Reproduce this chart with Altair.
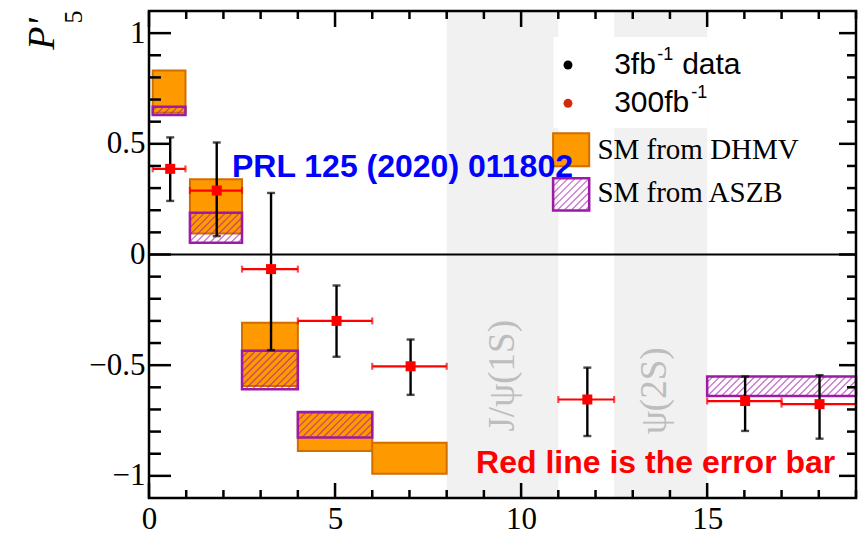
import math
import altair as alt
import pandas as pd

# ---------------- data ----------------
bin_lo = [0.1, 1.1, 2.5, 4.0, 6.0, 11.0, 15.0, 17.0]
bin_hi = [0.98, 2.5, 4.0, 6.0, 8.0, 12.5, 17.0, 19.0]
x_center = [0.57, 1.82, 3.28, 5.04, 7.03, 11.78, 16.02, 18.02]
p5_value = [0.387, 0.289, -0.066, -0.300, -0.505, -0.655, -0.662, -0.676]
err_top = [0.529, 0.506, 0.278, -0.140, -0.384, -0.511, -0.551, -0.545]
err_bot = [0.242, 0.083, -0.432, -0.462, -0.634, -0.820, -0.797, -0.832]

dhmv_x0 = [0.1, 1.1, 2.5, 4.0, 6.0]
dhmv_x1 = [0.98, 2.5, 4.0, 6.0, 8.0]
dhmv_top = [0.831, 0.340, -0.308, -0.715, -0.850]
dhmv_bot = [0.640, 0.095, -0.594, -0.888, -0.991]

aszb_x0 = [0.1, 1.1, 2.5, 4.0, 15.0]
aszb_x1 = [0.98, 2.5, 4.0, 6.0, 19.0]
aszb_top = [0.667, 0.189, -0.435, -0.711, -0.551]
aszb_bot = [0.630, 0.053, -0.609, -0.827, -0.639]

band_x0 = [8.0, 12.5]
band_x1 = [11.0, 15.0]
band_text = ["J/ψ(1S)", "ψ(2S)"]
band_text_x = [9.5, 13.6]
band_text_y = [-0.548, -0.616]

x_ticks = list(range(0, 20))
y_ticks = [round(-1.0 + 0.1 * i, 1) for i in range(21)]
x_labels = [0, 5, 10, 15]
y_labels = [-1, -0.5, 0, 0.5, 1]

# legend pieces (data coordinates)
leg_cover = dict(x0=[10.87], x1=[15.0], y0=[0.571], y1=[0.983])
leg_dot_x = [11.26, 11.26]
leg_dot_y = [0.856, 0.683]
leg_dot_color = ["#000000", "#d42a0c"]
leg_text_x = 12.5
leg_main_text = ["3fb", "300fb"]
leg_swatch = dict(x0=[10.86, 10.86], x1=[11.83, 11.83], y0=[0.399, 0.199], y1=[0.548, 0.344])
leg_sm_text = ["SM from DHMV", "SM from ASZB"]
leg_sm_y = [0.471, 0.276]
leg_sm_x = 12.05

W, H = 707, 487
XMIN, XMAX, YMIN, YMAX = 0.0, 19.0, -1.1, 1.1
SX = W / (XMAX - XMIN)
SY = H / (YMAX - YMIN)

xs = alt.Scale(domain=[XMIN, XMAX], nice=False, zero=False)
ys = alt.Scale(domain=[YMIN, YMAX], nice=False, zero=False)
label_font = "Liberation Serif"
xaxis = alt.Axis(values=x_labels, title=None, ticks=False, domain=False, grid=False,
                 labelFont=label_font, labelFontSize=31, labelColor="black",
                 labelPadding=6, labelFlush=False, labelOverlap=False, format="~g")
yaxis = alt.Axis(values=y_labels, title=None, ticks=False, domain=False, grid=False,
                 labelFont=label_font, labelFontSize=31, labelColor="black",
                 labelPadding=4, labelFlush=False, labelOverlap=False, format="~g")


def X(f):
    return alt.X(f, type="quantitative", scale=xs, axis=xaxis)


def Y(f):
    return alt.Y(f, type="quantitative", scale=ys, axis=yaxis)


def hatch(x0s, x1s, y0s, y1s, step=7.0):
    rows = []
    for x0, x1, yb, yt in zip(x0s, x1s, y0s, y1s):
        u0, u1 = x0 * SX, x1 * SX
        v0, v1 = yb * SY, yt * SY
        k = math.ceil((v0 - u1) / step)
        while k * step < v1 - u0:
            c = k * step
            ua = max(u0, v0 - c)
            ub = min(u1, v1 - c)
            if ub > ua:
                rows.append(dict(x=ua / SX, y=(ua + c) / SY, x2=ub / SX, y2=(ub + c) / SY))
            k += 1
    return pd.DataFrame(rows)


pts = pd.DataFrame(dict(lo=bin_lo, hi=bin_hi, xc=x_center, v=p5_value, et=err_top, eb=err_bot))
dhmv = pd.DataFrame(dict(x0=dhmv_x0, x1=dhmv_x1, y0=dhmv_bot, y1=dhmv_top))
aszb = pd.DataFrame(dict(x0=aszb_x0, x1=aszb_x1, y0=aszb_bot, y1=aszb_top))
bands = pd.DataFrame(dict(x0=band_x0, x1=band_x1, y0=[YMIN, YMIN], y1=[YMAX, YMAX]))
band_lbl = pd.DataFrame(dict(x=band_text_x, y=band_text_y, t=band_text))
cover = pd.DataFrame(leg_cover)
swatch = pd.DataFrame(leg_swatch)
xt = pd.DataFrame(dict(v=x_ticks, major=[v % 5 == 0 for v in x_ticks]))
yt = pd.DataFrame(dict(v=y_ticks, major=[abs(v * 2 - round(v * 2)) < 1e-9 for v in y_ticks]))

ORANGE = "#ff9900"
ORANGE_EDGE = "#d06e00"
PURPLE = "#9c1aa6"
RED = "#ff0000"

layers = []
# grey resonance bands
layers.append(alt.Chart(bands).mark_rect(color="#f1f1f1").encode(
    x=X("x0"), x2="x1", y=Y("y0"), y2="y1"))
# white legend background patch
layers.append(alt.Chart(cover).mark_rect(color="white").encode(
    x=X("x0"), x2="x1", y=Y("y0"), y2="y1"))
# zero line
layers.append(alt.Chart(pd.DataFrame(dict(v=[0.0]))).mark_rule(color="black", strokeWidth=2).encode(
    y=Y("v")))
# DHMV boxes
layers.append(alt.Chart(dhmv).mark_rect(fill=ORANGE, stroke=ORANGE_EDGE, strokeWidth=2).encode(
    x=X("x0"), x2="x1", y=Y("y0"), y2="y1"))
# ASZB hatch + boxes
hat = hatch(aszb_x0, aszb_x1, aszb_bot, aszb_top)
layers.append(alt.Chart(hat).mark_rule(color=PURPLE, strokeWidth=1.3, opacity=0.6).encode(
    x=X("x"), y=Y("y"), x2="x2", y2="y2"))
layers.append(alt.Chart(aszb).mark_rect(fill=None, fillOpacity=0, stroke=PURPLE, strokeWidth=2.5).encode(
    x=X("x0"), x2="x1", y=Y("y0"), y2="y1"))
# black (3 fb-1) error bars
layers.append(alt.Chart(pts).mark_rule(color="black", strokeWidth=2.4).encode(
    x=X("xc"), y=Y("eb"), y2="et"))
layers.append(alt.Chart(pts).mark_tick(color="black", orient="horizontal", size=8, thickness=2.4).encode(
    x=X("xc"), y=Y("et")))
layers.append(alt.Chart(pts).mark_tick(color="black", orient="horizontal", size=8, thickness=2.4).encode(
    x=X("xc"), y=Y("eb")))
# red (300 fb-1) horizontal bars
layers.append(alt.Chart(pts).mark_rule(color=RED, strokeWidth=2.2).encode(
    x=X("lo"), x2="hi", y=Y("v")))
layers.append(alt.Chart(pts).mark_tick(color=RED, orient="vertical", size=7, thickness=2.2).encode(
    x=X("lo"), y=Y("v")))
layers.append(alt.Chart(pts).mark_tick(color=RED, orient="vertical", size=7, thickness=2.2).encode(
    x=X("hi"), y=Y("v")))
layers.append(alt.Chart(pts).mark_square(color=RED, size=100, opacity=1).encode(
    x=X("xc"), y=Y("v")))

# band labels
layers.append(alt.Chart(band_lbl).mark_text(font=label_font, fontSize=37, color="#bdbdbd", angle=270,
                                            align="center", baseline="middle").encode(
    x=X("x"), y=Y("y"), text="t:N"))

# legend
leg_dots = pd.DataFrame(dict(x=leg_dot_x, y=leg_dot_y, c=leg_dot_color))
layers.append(alt.Chart(leg_dots).mark_circle(size=80, opacity=1).encode(
    x=X("x"), y=Y("y"), color=alt.Color("c:N", scale=None)))
leg_txt = pd.DataFrame(dict(x=[leg_text_x] * 2, y=leg_dot_y, t=leg_main_text))
layers.append(alt.Chart(leg_txt).mark_text(font="Liberation Sans", fontSize=30, color="black",
                                           align="left", baseline="middle").encode(
    x=X("x"), y=Y("y"), text="t:N"))
layers.append(alt.Chart(leg_txt.iloc[[0]]).mark_text(font="Liberation Sans", fontSize=18, color="black",
                                                     align="left", baseline="middle", dx=43, dy=-10).encode(
    x=X("x"), y=Y("y"), text=alt.value("-1")))
layers.append(alt.Chart(leg_txt.iloc[[1]]).mark_text(font="Liberation Sans", fontSize=18, color="black",
                                                     align="left", baseline="middle", dx=77, dy=-10).encode(
    x=X("x"), y=Y("y"), text=alt.value("-1")))
layers.append(alt.Chart(leg_txt.iloc[[0]]).mark_text(font="Liberation Sans", fontSize=30, color="black",
                                                     align="left", baseline="middle", dx=68).encode(
    x=X("x"), y=Y("y"), text=alt.value("data")))
sw_or = swatch.iloc[[0]]
sw_ha = swatch.iloc[[1]]
layers.append(alt.Chart(sw_or).mark_rect(fill=ORANGE, stroke=ORANGE_EDGE, strokeWidth=2).encode(
    x=X("x0"), x2="x1", y=Y("y0"), y2="y1"))
hat2 = hatch(list(sw_ha.x0), list(sw_ha.x1), list(sw_ha.y0), list(sw_ha.y1))
layers.append(alt.Chart(hat2).mark_rule(color=PURPLE, strokeWidth=1.3, opacity=0.6).encode(
    x=X("x"), y=Y("y"), x2="x2", y2="y2"))
layers.append(alt.Chart(sw_ha).mark_rect(fill=None, fillOpacity=0, stroke=PURPLE, strokeWidth=2.5).encode(
    x=X("x0"), x2="x1", y=Y("y0"), y2="y1"))
sm_txt = pd.DataFrame(dict(x=[leg_sm_x] * 2, y=leg_sm_y, t=leg_sm_text))
layers.append(alt.Chart(sm_txt).mark_text(font=label_font, fontSize=29, color="black",
                                          align="left", baseline="middle").encode(
    x=X("x"), y=Y("y"), text="t:N"))

# annotations
ann = pd.DataFrame(dict(x=[2.23], y=[0.395], t=["PRL 125 (2020) 011802"]))
layers.append(alt.Chart(ann).mark_text(font="Liberation Sans", fontWeight="bold", fontSize=32,
                                       color="#0000ff", align="left", baseline="middle").encode(
    x=X("x"), y=Y("y"), text="t:N"))
ann2 = pd.DataFrame(dict(x=[8.79], y=[-0.942], t=["Red line is the error bar"]))
layers.append(alt.Chart(ann2).mark_text(font="Liberation Sans", fontWeight="bold", fontSize=32,
                                        color="#ff0000", align="left", baseline="middle").encode(
    x=X("x"), y=Y("y"), text="t:N"))

# inward ticks on four sides
TW = 2.5
for major, lx, ly in [(True, (22, 17), (15, 16)), (False, (12, 9), (8, 8))]:
    xd = xt[xt.major == major]
    yd = yt[yt.major == major]
    layers.append(alt.Chart(xd).mark_rule(color="black", strokeWidth=TW).encode(
        x=X("v"), y=alt.value(H), y2=alt.value(H - ly[0])))
    layers.append(alt.Chart(xd).mark_rule(color="black", strokeWidth=TW).encode(
        x=X("v"), y=alt.value(0), y2=alt.value(ly[1])))
    layers.append(alt.Chart(yd).mark_rule(color="black", strokeWidth=TW).encode(
        y=Y("v"), x=alt.value(0), x2=alt.value(lx[0])))
    layers.append(alt.Chart(yd).mark_rule(color="black", strokeWidth=TW).encode(
        y=Y("v"), x=alt.value(W), x2=alt.value(W - lx[1])))

# frame
layers.append(alt.Chart(pd.DataFrame(dict(a=[0]))).mark_rect(fill=None, fillOpacity=0, stroke="black",
                                                             strokeWidth=2.5).encode(
    x=alt.value(0), x2=alt.value(W), y=alt.value(0), y2=alt.value(H)))

# y-axis title P'_5
ttl = pd.DataFrame(dict(t=["P'", "5"]))
layers.append(alt.Chart(ttl.iloc[[0]]).mark_text(font=label_font, fontStyle="italic", fontSize=38,
                                                 color="black", angle=270, align="center",
                                                 baseline="middle").encode(
    x=alt.value(43 - 149), y=alt.value(34 - 11), text="t:N"))
layers.append(alt.Chart(ttl.iloc[[1]]).mark_text(font=label_font, fontSize=26, color="black", angle=270,
                                                 align="center", baseline="middle").encode(
    x=alt.value(74 - 149), y=alt.value(17 - 11), text="t:N"))

chart = alt.layer(*layers).properties(
    width=W, height=H,
    autosize=alt.AutoSizeParams(type="none"),
    padding={"left": 149, "top": 11, "right": 5, "bottom": 37},
).configure_view(stroke=None).configure_axis(
    labelFont=label_font, labelFontSize=31, labelColor="black"
).configure(background="white")

chart.save("out.html", embed_options={"renderer": "svg", "actions": False})
